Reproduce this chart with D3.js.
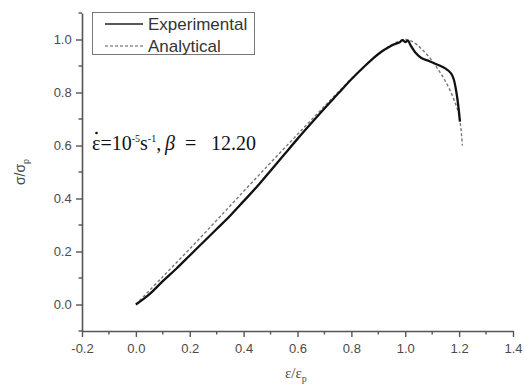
<!DOCTYPE html>
<html>
<head>
<meta charset="utf-8">
<script src="https://cdn.jsdelivr.net/npm/d3@7"></script>
<style>
  html, body { margin: 0; padding: 0; background: #fff; }
  svg { display: block; }
</style>
</head>
<body>
<svg id="chart" width="524" height="385"></svg>
<script>
// Normalised strain (ε/εp) and stress (σ/σp) for the measured curve
const expStrain = [0, 0.03, 0.06, 0.10, 0.15, 0.20, 0.25, 0.30, 0.35, 0.40, 0.45, 0.50, 0.55, 0.60, 0.65, 0.70, 0.75, 0.80, 0.85, 0.88, 0.91, 0.94, 0.96, 0.98, 0.99, 1.00, 1.01, 1.02, 1.04, 1.06, 1.09, 1.12, 1.15, 1.17, 1.18, 1.19, 1.198, 1.203];
const expStress = [0, 0.022, 0.048, 0.088, 0.135, 0.185, 0.235, 0.285, 0.335, 0.39, 0.445, 0.505, 0.565, 0.625, 0.683, 0.74, 0.795, 0.85, 0.9, 0.928, 0.953, 0.972, 0.982, 0.99, 0.998, 0.99, 0.996, 0.978, 0.948, 0.93, 0.918, 0.905, 0.89, 0.872, 0.85, 0.8, 0.74, 0.69];

// Model curve
const anaStrain = [0, 0.10, 0.20, 0.30, 0.40, 0.50, 0.60, 0.70, 0.80, 0.85, 0.90, 0.95, 1.00, 1.03, 1.06, 1.095, 1.12, 1.145, 1.175, 1.20, 1.212];
const anaStress = [0, 0.105, 0.21, 0.318, 0.427, 0.535, 0.642, 0.748, 0.852, 0.9, 0.945, 0.98, 1.0, 0.99, 0.965, 0.926, 0.89, 0.85, 0.788, 0.712, 0.60];

const xTicks = [-0.2, 0.0, 0.2, 0.4, 0.6, 0.8, 1.0, 1.2, 1.4];
const yTicks = [0.0, 0.2, 0.4, 0.6, 0.8, 1.0];
const legendLabels = ["Experimental", "Analytical"];

const svg = d3.select("#chart");
const x = d3.scaleLinear().domain([-0.2, 1.4]).range([82, 513]);
const y = d3.scaleLinear().domain([-0.1, 1.1]).range([331, 13]);

const axisColor = "#555";
const labelColor = "#4a4a4a";
const fmt = d => d.toFixed(1);

// minor ticks (every 0.1)
const xMinor = d3.range(-0.1, 1.4, 0.2);
const yMinor = d3.range(-0.1, 1.1, 0.2);

const gx = svg.append("g").attr("transform", `translate(0,${y(-0.1)})`);
gx.call(d3.axisBottom(x).tickValues(xTicks).tickFormat(fmt).tickSize(6).tickSizeOuter(0));
gx.append("g").selectAll("line").data(xMinor).join("line")
  .attr("x1", d => x(d)).attr("x2", d => x(d)).attr("y1", 0).attr("y2", 3.5);

const gy = svg.append("g").attr("transform", `translate(${x(-0.2)},0)`);
gy.call(d3.axisLeft(y).tickValues(yTicks).tickFormat(fmt).tickSize(6).tickSizeOuter(0));
gy.append("g").selectAll("line").data(yMinor).join("line")
  .attr("y1", d => y(d)).attr("y2", d => y(d)).attr("x1", 0).attr("x2", -3.5);

[gx, gy].forEach(g => {
  g.selectAll("path.domain").attr("stroke", axisColor).attr("stroke-width", 1.6);
  g.selectAll("line").attr("stroke", axisColor).attr("stroke-width", 1.4);
  g.selectAll("text").attr("fill", labelColor)
    .style("font-family", "'Liberation Sans', Arial, sans-serif").style("font-size", "13px");
});
gx.selectAll(".tick text").attr("dy", "1.0em");
gy.selectAll(".tick text").attr("dx", "-0.1em");

// curves
const expPts = expStrain.map((s, i) => [x(s), y(expStress[i])]);
const anaPts = anaStrain.map((s, i) => [x(s), y(anaStress[i])]);

svg.append("path").attr("d", d3.line().curve(d3.curveCatmullRom)(anaPts))
  .attr("fill", "none").attr("stroke", "#777").attr("stroke-width", 1.4)
  .attr("stroke-dasharray", "3,2.2");
svg.append("path").attr("d", d3.line().curve(d3.curveCatmullRom)(expPts))
  .attr("fill", "none").attr("stroke", "#111").attr("stroke-width", 2.3)
  .attr("stroke-linejoin", "round");

// legend
const lg = svg.append("g");
lg.append("rect").attr("x", 92.5).attr("y", 12.5).attr("width", 162).attr("height", 42)
  .attr("fill", "#fff").attr("stroke", "#777").attr("stroke-width", 1);
const legendY = [24, 46];
lg.append("line").attr("x1", 105).attr("x2", 143).attr("y1", legendY[0]).attr("y2", legendY[0])
  .attr("stroke", "#222").attr("stroke-width", 1.3);
lg.append("line").attr("x1", 105).attr("x2", 143).attr("y1", legendY[1]).attr("y2", legendY[1])
  .attr("stroke", "#555").attr("stroke-width", 1.2).attr("stroke-dasharray", "3,2");
lg.selectAll("text").data(legendLabels).join("text")
  .attr("x", 148).attr("y", (d, i) => legendY[i] + 6)
  .attr("fill", "#333")
  .style("font-family", "'Liberation Sans', Arial, sans-serif").style("font-size", "17px")
  .text(d => d);

// annotation: strain rate and beta
const ann = svg.append("text").attr("x", 92).attr("y", 150)
  .attr("fill", "#111")
  .style("font-family", "'Liberation Serif', 'Times New Roman', serif").style("font-size", "20px");
ann.append("tspan").text("\u03B5=10");
ann.append("tspan").attr("dy", -8).style("font-size", "10px").text("-5");
ann.append("tspan").attr("dy", 8).text("s");
ann.append("tspan").attr("dy", -8).style("font-size", "10px").text("-1");
ann.append("tspan").attr("dy", 8).text(",");
ann.append("tspan").attr("x", 165).style("font-style", "italic").text("\u03B2");
ann.append("tspan").attr("x", 185).text("=");
ann.append("tspan").attr("x", 211).text("12.20");
// time-derivative dot above ε
svg.append("circle").attr("cx", 96.5).attr("cy", 133).attr("r", 1.3).attr("fill", "#111");

// axis titles
const yt = svg.append("text").attr("transform", "translate(25,172) rotate(-90)")
  .attr("text-anchor", "middle").attr("fill", labelColor)
  .style("font-family", "'Liberation Sans', Arial, sans-serif").style("font-size", "14px");
yt.append("tspan").text("\u03C3/\u03C3");
yt.append("tspan").attr("dy", 4).style("font-size", "9px").text("p");

const xt = svg.append("text").attr("x", 285).attr("y", 378)
  .attr("fill", labelColor)
  .style("font-family", "'Liberation Serif', 'Times New Roman', serif").style("font-size", "15px");
xt.append("tspan").text("\u03B5/\u03B5");
xt.append("tspan").attr("dy", 4).style("font-size", "10px").text("p");
</script>
</body>
</html>
